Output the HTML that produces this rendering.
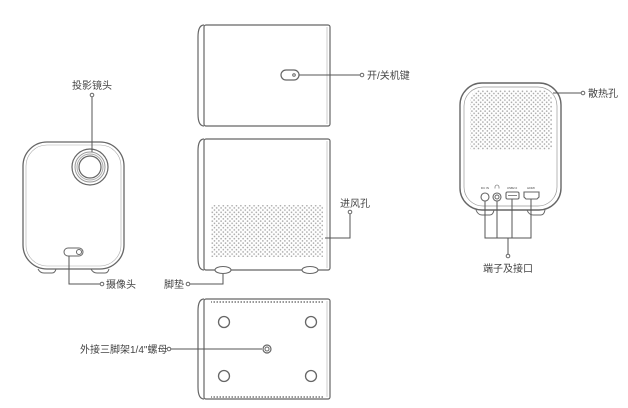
<!DOCTYPE html>
<html><head><meta charset="utf-8"><style>
html,body{margin:0;padding:0;background:#fff;}
svg{display:block;}
text{font-family:"Liberation Sans","Noto Sans CJK SC",sans-serif;fill:#444;font-size:10px;}
</style></head><body>
<svg width="628" height="408" viewBox="0 0 628 408" xmlns="http://www.w3.org/2000/svg">
<defs>
<pattern id="dots" x="0" y="0" width="4.4" height="4.4" patternUnits="userSpaceOnUse">
<circle cx="1.1" cy="1.1" r="0.8" fill="#a5a5a5"/>
<circle cx="3.3" cy="3.3" r="0.8" fill="#a5a5a5"/>
</pattern>
<pattern id="teeth" x="0" y="0" width="3" height="4" patternUnits="userSpaceOnUse">
<rect x="0.5" y="0" width="1.5" height="3" fill="#999"/>
</pattern>
</defs>
<g fill="none" stroke="#666" stroke-width="1">
<!-- Front view -->
<rect x="23" y="142" width="101" height="127" rx="24" ry="24" stroke-width="1.3"/>
<rect x="26" y="145" width="95" height="121" rx="21" ry="21" stroke="#aaa" stroke-width="0.6"/>
<path d="M38 269 q2 4 6 4 h8 q3 0 4 -4" />
<path d="M91 269 q2 4 6 4 h8 q3 0 4 -4" />
<circle cx="90" cy="167" r="18" stroke-width="1.2"/>
<circle cx="90" cy="167" r="15" stroke="#999"/>
<circle cx="90" cy="167" r="13" stroke="#aaa"/>
<circle cx="90" cy="167" r="11" stroke-width="1.2"/>
<rect x="64" y="248" width="19" height="8" rx="4"/>
<circle cx="79" cy="252" r="2.5"/>
<line x1="92" y1="97" x2="92" y2="152" stroke="#555"/>
<circle cx="92" cy="95" r="1.8" fill="#fff"/>
<polyline points="69,256 69,284 100,284" stroke="#555"/>
<circle cx="102" cy="284" r="1.8" fill="#fff"/>

<!-- Top view -->
<rect x="204" y="25" width="126" height="101" rx="2" stroke-width="1.2"/>
<path d="M204 25 q-6 0 -6 12 v77 q0 12 6 12" stroke-width="1.2"/>
<line x1="327" y1="27" x2="327" y2="124" stroke="#aaa" stroke-width="0.6"/>
<rect x="281" y="70" width="18" height="10" rx="5" stroke-width="1.2"/>
<circle cx="294" cy="75" r="1.3"/>
<line x1="299" y1="75" x2="360" y2="75" stroke="#555"/>
<circle cx="362" cy="75" r="1.8" fill="#fff"/>

<!-- Side view -->
<rect x="204" y="139" width="126" height="131" rx="2" stroke-width="1.2"/>
<path d="M204 139 q-6 0 -6 12 v107 q0 12 6 12" stroke-width="1.2"/>
<line x1="327" y1="141" x2="327" y2="268" stroke="#aaa" stroke-width="0.6"/>
<ellipse cx="223" cy="270" rx="8" ry="3.5" fill="#fff" stroke-width="1.1"/>
<ellipse cx="310" cy="270" rx="8" ry="3.5" fill="#fff" stroke-width="1.1"/>
<rect x="211" y="205" width="112" height="52" fill="url(#dots)" stroke="none"/>
<polyline points="325,238 350,238 350,214" stroke="#555"/>
<circle cx="350" cy="212" r="1.8" fill="#fff"/>
<polyline points="223,274 223,284 190,284" stroke="#555"/>
<circle cx="188" cy="284" r="1.8" fill="#fff"/>

<!-- Bottom view -->
<rect x="204" y="299" width="126" height="100" rx="2" stroke-width="1.2"/>
<path d="M204 299 q-6 0 -6 12 v76 q0 12 6 12" stroke-width="1.2"/>
<line x1="327" y1="301" x2="327" y2="397" stroke="#aaa" stroke-width="0.6"/>
<rect x="211" y="301" width="112" height="3" fill="url(#teeth)" stroke="none"/>
<rect x="211" y="395" width="112" height="3" fill="url(#teeth)" stroke="none"/>
<circle cx="224" cy="322" r="5.5" stroke-width="1.3"/>
<circle cx="311" cy="322" r="5.5" stroke-width="1.3"/>
<circle cx="224" cy="376" r="5.5" stroke-width="1.3"/>
<circle cx="311" cy="376" r="5.5" stroke-width="1.3"/>
<circle cx="267" cy="349" r="4" stroke-width="1.2"/>
<circle cx="267" cy="349" r="2" />
<line x1="171" y1="349" x2="262" y2="349" stroke="#555"/>
<circle cx="169" cy="349" r="1.8" fill="#fff"/>

<!-- Back view -->
<rect x="460" y="83" width="101" height="127" rx="22" ry="22" stroke-width="1.4"/>
<rect x="464" y="87" width="93" height="119" rx="19" ry="19" stroke="#999" stroke-width="0.7"/>
<path d="M476 210 q2 5 6 5 h8 q3 0 4 -5"/>
<path d="M527 210 q2 5 6 5 h8 q3 0 4 -5"/>
<path d="M470 150 V102 q0 -12 12 -12 h58 q12 0 12 12 V150 Z" fill="url(#dots)" stroke="none"/>
<circle cx="485" cy="197" r="4" stroke-width="1.1"/>
<circle cx="497" cy="197" r="4" stroke-width="1.1"/>
<circle cx="497" cy="197" r="2" stroke-width="1"/>
<rect x="506" y="192" width="13" height="7" rx="1.5" stroke-width="1.1"/>
<line x1="508" y1="195.5" x2="517" y2="195.5" stroke-width="0.8"/>
<path d="M524 192 h15 v5 l-2 2 h-11 l-2 -2 z" stroke-width="1.1"/>
<polyline points="485,201 485,238 531,238 531,199" stroke="#555"/>
<line x1="497" y1="201" x2="497" y2="238" stroke="#555"/>
<line x1="512" y1="199" x2="512" y2="238" stroke="#555"/>
<line x1="508" y1="238" x2="508" y2="254" stroke="#555"/>
<circle cx="508" cy="256" r="1.8" fill="#fff"/>
<line x1="553" y1="93" x2="581" y2="93" stroke="#555"/>
<circle cx="583" cy="93" r="1.8" fill="#fff"/>
</g>
<g>
<text x="92" y="89" text-anchor="middle">投影镜头</text>
<text x="106" y="288">摄像头</text>
<text x="367" y="79">开/关机键</text>
<text x="340" y="207">进风孔</text>
<text x="164" y="288">脚垫</text>
<text x="80" y="353">外接三脚架1/4"螺母</text>
<text x="588" y="97">散热孔</text>
<text x="508" y="272" text-anchor="middle">端子及接口</text>
<text x="485" y="189" text-anchor="middle" style="font-size:3px">DC IN</text>
<text x="512" y="189" text-anchor="middle" style="font-size:3px">USB2.0</text>
<text x="531" y="189" text-anchor="middle" style="font-size:3px">HDMI</text>
</g>
<path d="M495 187 a2 2 0 0 1 4 0 v1.5 M495 187 v1.5" fill="none" stroke="#555" stroke-width="0.6"/>
</svg>
</body></html>
